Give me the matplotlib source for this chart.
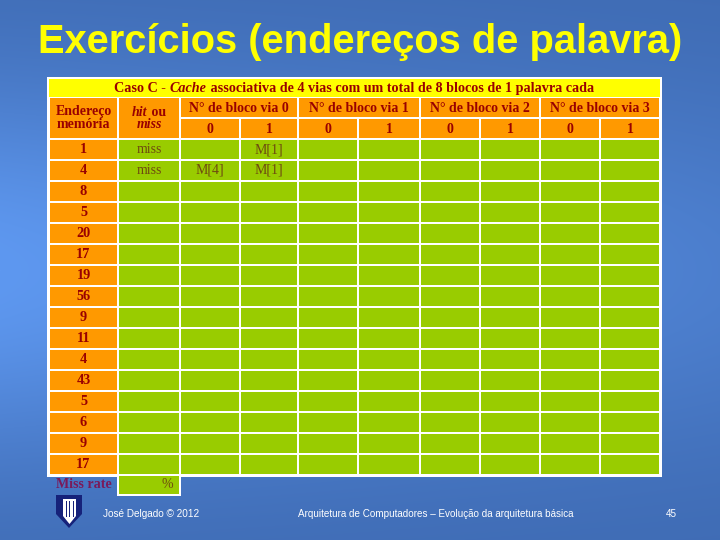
import numpy as np
import matplotlib
matplotlib.use("Agg")
import matplotlib.pyplot as plt
from matplotlib.patches import Rectangle, Polygon
from matplotlib import font_manager as fm

# ---------------- data ----------------
slide_title = "Exercícios (endereços de palavra)"
table_title_runs = [("Caso C - ", "normal"), ("Cache", "italic"),
                    (" associativa de 4 vias com um total de 8 blocos de 1 palavra cada", "normal")]
addresses = ["1", "4", "8", "5", "20", "17", "19", "56", "9", "11", "4", "43", "5", "6", "9", "17"]
hit_miss = ["miss", "miss"] + [""] * 14
via_headers = ["N° de bloco via 0", "N° de bloco via 1", "N° de bloco via 2", "N° de bloco via 3"]
block_labels = ["0", "1"]
# cell contents: (row, column index 0..7) -> text
cells = {(0, 1): "M[1]", (1, 0): "M[4]", (1, 1): "M[1]"}
miss_rate_label = "Miss rate"
miss_rate_value = "%"
footer_left = "José Delgado © 2012"
footer_mid = "Arquitetura de Computadores – Evolução da arquitetura básica"
page_number = "45"

# ---------------- style ----------------
YELLOW = "#FFFF00"
ORANGE = "#FF9900"
GREEN = "#99CC00"
DARKRED = "#990000"
BROWN = "#6E4A10"
PURPLE = "#7A1A5A"
SERIF = "Liberation Serif"
SANS = "Liberation Sans"

fig = plt.figure(figsize=(7.2, 5.4), dpi=100)
ax = fig.add_axes([0, 0, 1, 1])
ax.set_xlim(0, 720)
ax.set_ylim(540, 0)
ax.axis("off")

# background gradient
H, W = 540, 720
yy, xx = np.mgrid[0:H, 0:W]
dark = np.array([62, 106, 178]) / 255.0
light = np.array([94, 152, 240]) / 255.0
f = np.exp(-((yy - 270) / 190.0) ** 2) * (1.0 - 0.55 * xx / W)
f = np.clip(f, 0, 1)[..., None]
bg = dark + (light - dark) * f
ax.imshow(bg, extent=(0, 720, 540, 0), zorder=0, aspect="auto")

renderer = fig.canvas.get_renderer()


def fit_size(text, target_w, **kw):
    t = ax.text(0, 0, text, fontsize=10, **kw)
    w = t.get_window_extent(renderer).width
    t.remove()
    return 10 * target_w / w


def text_width(text, size, **kw):
    t = ax.text(0, 0, text, fontsize=size, **kw)
    w = t.get_window_extent(renderer).width
    t.remove()
    return w


def runs_centered(xc, y, runs, size, color, family, weight="bold"):
    widths = [text_width(s, size, family=family, weight=weight, style=st) for s, st in runs]
    x = xc - sum(widths) / 2
    for (s, st), w in zip(runs, widths):
        ax.text(x, y, s, fontsize=size, family=family, weight=weight, style=st,
                color=color, ha="left", va="center", zorder=5)
        x += w


# title
title_font = None
names = {f_.name for f_ in fm.fontManager.ttflist}
for cand in ["Liberation Sans Narrow", "DejaVu Sans Condensed"]:
    if cand in names:
        title_font = cand
        break
if title_font is None:
    title_font = SANS
ts = fit_size(slide_title, 645, family=title_font, weight="bold")
ts = min(ts, 31)
ax.text(360, 42, slide_title, fontsize=ts, family=title_font, weight="bold",
        color=YELLOW, ha="center", va="center", zorder=5)

# table geometry (layout)
xe = [49, 118, 180, 240, 298, 358, 420, 480, 540, 600, 660]
y_title = (79, 97)
y_h1 = (97, 118)
y_h2 = (118, 139)
row_h = 21
y0 = 139
n_rows = len(addresses)
y_end = y0 + n_rows * row_h

# white table backing
ax.add_patch(Rectangle((47, 77), 615, y_end - 77 + 2, facecolor="white", edgecolor="none", zorder=1))
# miss rate white backing
ax.add_patch(Rectangle((xe[1] - 1, y_end), xe[2] - xe[1] + 2, 21, facecolor="white", edgecolor="none", zorder=1))


def cell(x0, x1, ya, yb, color):
    ax.add_patch(Rectangle((x0 + 1, ya + 1), x1 - x0 - 2, yb - ya - 2,
                           facecolor=color, edgecolor="none", zorder=2))


# table title row
cell(xe[0] - 1, xe[-1] + 1, y_title[0] - 1, y_title[1] + 1, YELLOW)
runs_centered(354, (y_title[0] + y_title[1]) / 2 + 0.5, table_title_runs, 10.2, DARKRED, SERIF)

# header
hs = fit_size("Endereço", 56, family=SERIF, weight="bold")
cell(xe[0], xe[1], y_h1[0], y_h2[1], ORANGE)
ax.text((xe[0] + xe[1]) / 2, 112, "Endereço", fontsize=hs, family=SERIF, weight="bold",
        color=DARKRED, ha="center", va="center", zorder=5)
ax.text((xe[0] + xe[1]) / 2, 125, "memória", fontsize=hs, family=SERIF, weight="bold",
        color=DARKRED, ha="center", va="center", zorder=5)
cell(xe[1], xe[2], y_h1[0], y_h2[1], ORANGE)
runs_centered((xe[1] + xe[2]) / 2, 112, [("hit", "italic"), (" ou", "normal")], hs, DARKRED, SERIF)
runs_centered((xe[1] + xe[2]) / 2, 125, [("miss", "italic")], hs, DARKRED, SERIF)
for v, lab in enumerate(via_headers):
    xa, xb = xe[2 + 2 * v], xe[4 + 2 * v]
    cell(xa, xb, y_h1[0], y_h1[1], ORANGE)
    ax.text((xa + xb) / 2, (y_h1[0] + y_h1[1]) / 2 + 1, lab, fontsize=10, family=SERIF,
            weight="bold", color=DARKRED, ha="center", va="center", zorder=5)
    for b, bl in enumerate(block_labels):
        xa2, xb2 = xe[2 + 2 * v + b], xe[3 + 2 * v + b]
        cell(xa2, xb2, y_h2[0], y_h2[1], ORANGE)
        ax.text((xa2 + xb2) / 2, (y_h2[0] + y_h2[1]) / 2 + 1, bl, fontsize=10, family=SERIF,
                weight="bold", color=DARKRED, ha="center", va="center", zorder=5)

# data rows
for r, addr in enumerate(addresses):
    ya, yb = y0 + r * row_h, y0 + (r + 1) * row_h
    ym = (ya + yb) / 2
    cell(xe[0], xe[1], ya, yb, ORANGE)
    ax.text((xe[0] + xe[1]) / 2, ym, addr, fontsize=10.3, family=SERIF, weight="bold",
            color=DARKRED, ha="center", va="center", zorder=5)
    cell(xe[1], xe[2], ya, yb, GREEN)
    if hit_miss[r]:
        ax.text((xe[1] + xe[2]) / 2, ym, hit_miss[r], fontsize=10, family=SERIF,
                color=BROWN, ha="center", va="center", zorder=5)
    for c in range(8):
        xa, xb = xe[2 + c], xe[3 + c]
        cell(xa, xb, ya, yb, GREEN)
        txt = cells.get((r, c), "")
        if txt:
            ax.text((xa + xb) / 2, ym, txt, fontsize=10, family=SERIF, color=BROWN,
                    ha="center", va="center", zorder=5)

# miss rate row
cell(xe[1], xe[2], y_end, y_end + 20, GREEN)
ax.text(173, y_end + 10, miss_rate_value, fontsize=10, family=SERIF, color=BROWN,
        ha="right", va="center", zorder=5)
ms = fit_size(miss_rate_label, 56, family=SERIF, weight="bold")
ax.text(56, y_end + 10, miss_rate_label, fontsize=ms, family=SERIF, weight="bold",
        color=PURPLE, ha="left", va="center", zorder=5)

# logo (shield)
ax.add_patch(Polygon([(56, 495), (82, 495), (82, 514), (69, 528), (56, 514)], closed=True,
                     facecolor="#16227A", edgecolor="none", zorder=3))
ax.add_patch(Polygon([(63, 499), (76, 499), (76, 516), (69.5, 524), (63, 516)], closed=True,
                     facecolor="white", edgecolor="none", zorder=4))
for xl in (66, 69, 72.5):
    ax.add_patch(Rectangle((xl, 501), 1.4, 16, facecolor="#16227A", edgecolor="none", zorder=5))

# footer
fs = fit_size(footer_left, 96, family=SANS)
ax.text(103, 514, footer_left, fontsize=fs, family=SANS, color="white", ha="left", va="center", zorder=5)
fs2 = fit_size(footer_mid, 277, family=SANS)
ax.text(298, 514, footer_mid, fontsize=fs2, family=SANS, color="white", ha="left", va="center", zorder=5)
ax.text(677, 514, page_number, fontsize=fs2, family=SANS, color="white", ha="right", va="center", zorder=5)

fig.savefig("out.png", dpi=100)
